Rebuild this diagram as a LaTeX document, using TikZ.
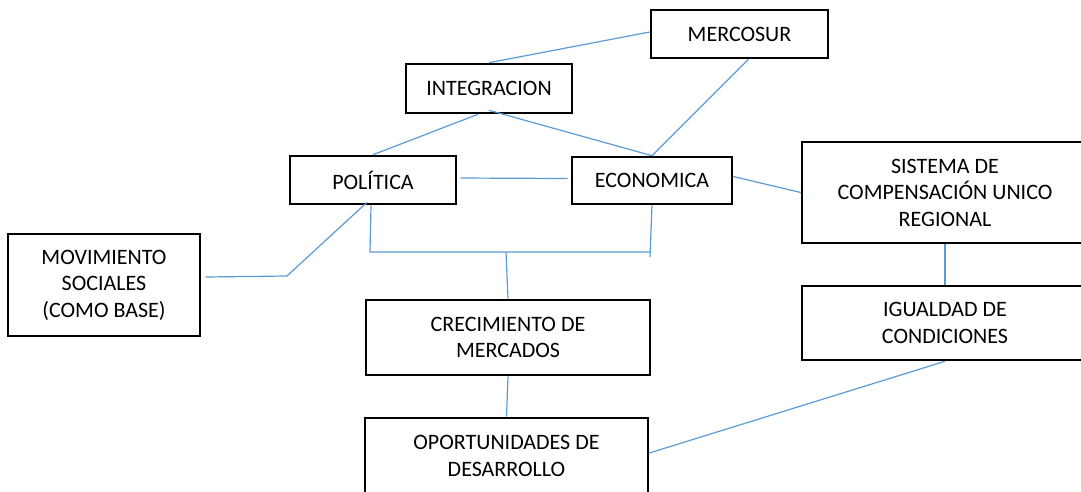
\documentclass[tikz,border=0pt]{standalone}
\usepackage{fontspec}
\setmainfont{Carlito}
\usepackage{tikz}
\definecolor{linkblue}{RGB}{91,155,213}
\tikzset{
  box/.style={draw=black, line width=2.6pt, inner sep=0pt, align=center,
    font=\fontsize{22}{26.5}\selectfont},
  link/.style={draw=linkblue, line width=1.2pt}
}

\begin{document}
\begin{tikzpicture}[x=1pt,y=-1pt]
  \useasboundingbox (0,0) rectangle (1081,491);
  \clip (0,0) rectangle (1081,491);
  \node[box, minimum width=177pt, minimum height=48pt] (mercosur) at (739.5,34) {MERCOSUR};
  \node[box, minimum width=166pt, minimum height=49pt] (integ) at (489,88.5) {INTEGRACION};
  \node[box, minimum width=166pt, minimum height=48pt] (pol) at (373,180) {POLÍTICA};
  \node[box, minimum width=160pt, minimum height=47pt] (econ) at (652,180.5) {ECONOMICA};
  \node[box, minimum width=286pt, minimum height=101pt] (sis) at (945,192.5) {SISTEMA DE\\COMPENSACIÓN UNICO\\REGIONAL};
  \node[box, minimum width=192pt, minimum height=102pt] (mov) at (104,285) {MOVIMIENTO\\SOCIALES\\(COMO BASE)};
  \node[box, minimum width=284pt, minimum height=75pt] (crec) at (508,337.5) {CRECIMIENTO DE\\MERCADOS};
  \node[box, minimum width=286pt, minimum height=74pt] (igual) at (945,323) {IGUALDAD DE\\CONDICIONES};
  \node[box, minimum width=283pt, minimum height=76pt] (oport) at (506.5,456) {OPORTUNIDADES DE\\DESARROLLO};
  \coordinate (movA) at (287,276);
  \coordinate (bl) at (370,252);
  \coordinate (br) at (651,252);
  \coordinate (brEnd) at (650,257);
  \coordinate (bm) at (506,252);
  \draw[link] (integ.north) -- ([yshift=2pt]mercosur.west);
  \draw[link] ([xshift=-11pt]integ.south) -- (pol.north);
  \draw[link] ([yshift=4pt]integ.south) -- (econ.north);
  \draw[link] ([xshift=9pt]mercosur.south) -- (econ.north);
  \draw[link, shorten <=3pt, shorten >=3pt] ([yshift=2pt]pol.east) -- ([yshift=2pt]econ.west);
  \draw[link] ([yshift=4pt]econ.east) -- (sis.west);
  \draw[link] ([xshift=-2pt]pol.south) -- (bl) -- (br);
  \draw[link] (econ.south) -- (brEnd);
  \draw[link] (bm) -- (crec.north);
  \draw[link] ([xshift=4pt,yshift=8pt]mov.east) -- (movA) -- ([xshift=-6pt,yshift=3pt]pol.south);
  \draw[link] (crec.south) -- (oport.north);
  \draw[link] (sis.south) -- (igual.north);
  \draw[link] (igual.south) -- ([yshift=3pt]oport.east);
\end{tikzpicture}
\end{document}
